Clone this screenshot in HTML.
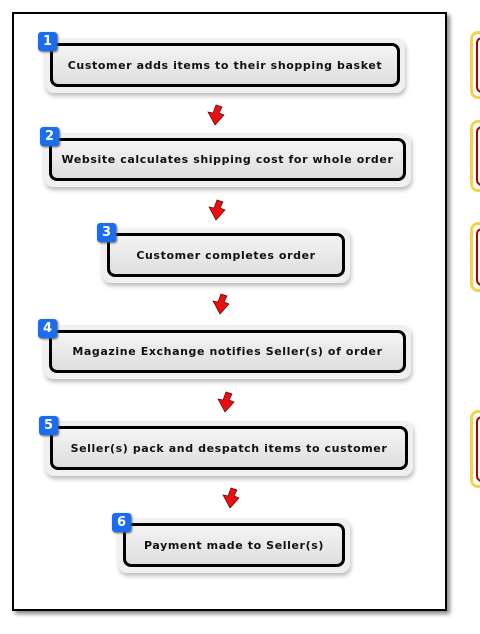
<!DOCTYPE html>
<html><head><style>
body{margin:0;width:480px;height:634px;background:#fff;position:relative;overflow:hidden;font-family:"DejaVu Sans","Liberation Sans",sans-serif}
.frame{position:absolute;left:12px;top:12px;width:431px;height:595px;border:2px solid #000;box-shadow:3px 3px 4px #888;background:#fff}
.o{position:absolute;background:#f0f0f0;border-radius:9px;box-shadow:1px 3px 4px #bbb}
.i{position:absolute;left:5px;top:5px;right:5px;bottom:6px;border:3px solid #000;border-radius:8px;background:linear-gradient(#f4f4f4,#dedede);display:flex;align-items:center;justify-content:center;font-size:11px;font-weight:bold;letter-spacing:0.6px;color:#111;white-space:nowrap}
.b{position:absolute;width:19px;height:19px;background:#1a6cf0;border-radius:3px;color:#fff;font-weight:bold;font-size:13px;text-align:center;line-height:19px;box-shadow:1px 1px 2px #555}
.y{position:absolute;left:470px;width:20px;background:#fff;border:3px solid #f3d34a;border-radius:8px}
.y div{position:absolute;left:3px;top:3px;bottom:3px;right:-6px;border:2px solid #a00;border-radius:6px;background:#fff}
svg{position:absolute}
</style></head><body>
<div class="frame"></div>
<div class="y" style="top:31px;height:62px"><div></div></div>
<div class="y" style="top:120px;height:66px"><div></div></div>
<div class="y" style="top:222px;height:64px"><div></div></div>
<div class="y" style="top:410px;height:72px"><div></div></div>

<div class="o" style="left:45px;top:38px;width:360px;height:55px"><div class="i">Customer adds items to their shopping basket</div></div>
<div class="b" style="left:38px;top:32px">1</div>
<div class="o" style="left:44px;top:133px;width:367px;height:54px"><div class="i">Website calculates shipping cost for whole order</div></div>
<div class="b" style="left:40px;top:127px">2</div>
<div class="o" style="left:102px;top:228px;width:248px;height:55px"><div class="i">Customer completes order</div></div>
<div class="b" style="left:97px;top:223px">3</div>
<div class="o" style="left:44px;top:325px;width:367px;height:54px"><div class="i">Magazine Exchange notifies Seller(s) of order</div></div>
<div class="b" style="left:38px;top:319px">4</div>
<div class="o" style="left:45px;top:421px;width:368px;height:55px"><div class="i">Seller(s) pack and despatch items to customer</div></div>
<div class="b" style="left:39px;top:416px">5</div>
<div class="o" style="left:118px;top:518px;width:232px;height:55px"><div class="i">Payment made to Seller(s)</div></div>
<div class="b" style="left:112px;top:513px">6</div>

<svg width="480" height="634" style="left:0;top:0">
<defs><path id="a" d="M4 0 L10 2 L7 8 L12 10 L3 20 L-4 7 L1 8 Z" fill="#e81010" stroke="#600" stroke-width="0.7"/></defs>
<use href="#a" x="212" y="105"/>
<use href="#a" x="213" y="200"/>
<use href="#a" x="217" y="294"/>
<use href="#a" x="222" y="392"/>
<use href="#a" x="227" y="488"/>
</svg>
</body></html>
